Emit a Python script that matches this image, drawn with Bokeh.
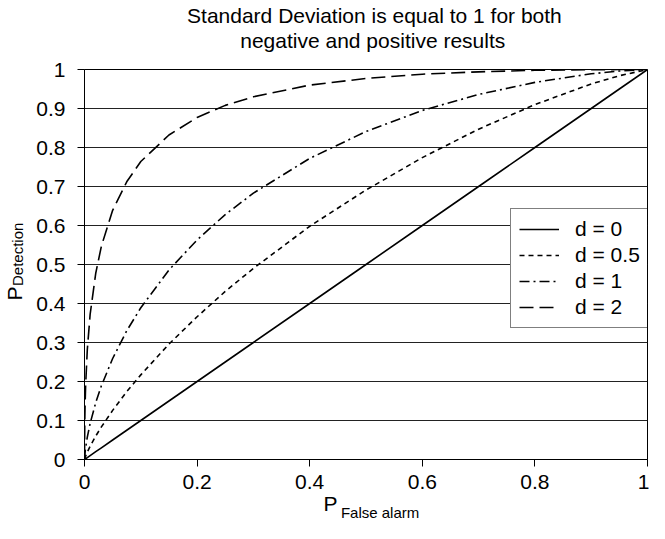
from bokeh.plotting import figure
from bokeh.models import Range1d, FixedTicker, LinearAxis
from bokeh.embed import file_html
from bokeh.resources import INLINE

# ---------------- data ----------------
title_lines = ["Standard Deviation is equal to 1 for both",
               "negative and positive results"]
x_label_main, x_label_sub = "P", "False alarm"
y_label_main, y_label_sub = "P", "Detection"

x_ticks = [0, 0.2, 0.4, 0.6, 0.8, 1]
x_tick_labels = ["0", "0.2", "0.4", "0.6", "0.8", "1"]
y_ticks = [0, 0.1, 0.2, 0.3, 0.4, 0.5, 0.6, 0.7, 0.8, 0.9, 1]
y_tick_labels = ["0", "0.1", "0.2", "0.3", "0.4", "0.5", "0.6", "0.7", "0.8", "0.9", "1"]

series_labels = ["d = 0", "d = 0.5", "d = 1", "d = 2"]

p_false_alarm = [0, 0.0005, 0.001, 0.002, 0.005, 0.01, 0.02, 0.03, 0.05, 0.075,
                 0.1, 0.15, 0.2, 0.25, 0.3, 0.4, 0.5, 0.6, 0.7, 0.8, 0.9, 0.95, 1.0]
p_det_d0 = [0, 0.0005, 0.001, 0.002, 0.005, 0.01, 0.02, 0.03, 0.05, 0.075,
            0.1, 0.15, 0.2, 0.25, 0.3, 0.4, 0.5, 0.6, 0.7, 0.8, 0.9, 0.95, 1.0]
p_det_d05 = [0, 0.0026, 0.0048, 0.0087, 0.0189, 0.0339, 0.0601, 0.0836, 0.126, 0.174,
             0.217, 0.296, 0.366, 0.431, 0.490, 0.598, 0.691, 0.774, 0.847, 0.910, 0.963, 0.984, 1.0]
p_det_d1 = [0, 0.011, 0.0183, 0.0302, 0.0575, 0.0924, 0.146, 0.189, 0.259, 0.330,
            0.389, 0.486, 0.563, 0.628, 0.683, 0.772, 0.841, 0.895, 0.936, 0.967, 0.989, 0.996, 1.0]
p_det_d2 = [0, 0.0985, 0.138, 0.190, 0.282, 0.372, 0.478, 0.547, 0.639, 0.712,
            0.764, 0.832, 0.877, 0.908, 0.930, 0.960, 0.977, 0.988, 0.994, 0.998, 0.9995, 0.9999, 1.0]

# ---------------- styling ----------------
FONT = "Liberation Sans"
series = [
    (p_det_d0, series_labels[0], "solid"),
    (p_det_d05, series_labels[1], "5 4"),
    (p_det_d1, series_labels[2], "10 4 2 4"),
    (p_det_d2, series_labels[3], "14 6"),
]

p = figure(width=649, height=523,
           x_range=Range1d(0, 1), y_range=Range1d(0, 1),
           output_backend="svg", toolbar_location=None,
           min_border_left=79, min_border_right=2,
           min_border_top=62, min_border_bottom=64)
p.title.text = ""
p.background_fill_color = "white"
p.border_fill_color = "white"
p.outline_line_color = "black"
p.outline_line_width = 1

for ys, lab, dash in series:
    p.line(p_false_alarm, ys, line_color="black", line_width=1.6,
           line_dash=dash, legend_label=lab)

# main axes
p.xaxis.ticker = FixedTicker(ticks=x_ticks)
p.yaxis.ticker = FixedTicker(ticks=y_ticks)
p.xaxis.major_label_overrides = dict(zip(x_ticks, x_tick_labels))
p.yaxis.major_label_overrides = dict(zip(y_ticks, y_tick_labels))
for ax in (p.xaxis, p.yaxis):
    ax.axis_line_color = "black"
    ax.axis_line_width = 1
    ax.major_tick_line_color = "black"
    ax.major_tick_in = 0
    ax.major_tick_out = 7
    ax.minor_tick_line_color = None
    ax.minor_tick_in = 0
    ax.minor_tick_out = 0
    ax.major_label_text_font = FONT
    ax.major_label_text_font_size = "21px"
    ax.major_label_text_color = "black"
p.xaxis.major_label_standoff = 8
p.yaxis.major_label_standoff = 12

# grid
p.xgrid.visible = False
p.ygrid.ticker = FixedTicker(ticks=y_ticks)
p.ygrid.grid_line_color = "#222222"
p.ygrid.grid_line_width = 1

# legend
lg = p.legend[0]
lg.location = (426, 131)
lg.label_text_font = FONT
lg.label_text_font_size = "21px"
lg.label_text_color = "black"
lg.glyph_width = 40
lg.glyph_height = 20
lg.label_standoff = 16
lg.padding = 8
lg.spacing = 2
lg.margin = 0
lg.border_line_color = "black"
lg.border_line_width = 1
lg.background_fill_color = "white"
lg.background_fill_alpha = 1


# text-only axes: each carries one piece of text as its single tick label,
# so the text sits at a chosen position along the frame
def text_axis(side, pos, text, size, standoff):
    ax = LinearAxis(ticker=FixedTicker(ticks=[pos]),
                    major_label_overrides={pos: text},
                    axis_line_color=None, major_tick_line_color=None,
                    major_tick_in=0, major_tick_out=0,
                    minor_tick_line_color=None, minor_tick_in=0, minor_tick_out=0,
                    major_label_standoff=standoff,
                    major_label_text_font=FONT, major_label_text_font_size=size,
                    major_label_text_color="black")
    if side in ("left", "right"):
        ax.major_label_orientation = "vertical"
    p.add_layout(ax, side)


# title: second line nearest to the frame, then the first line
text_axis("above", 0.512, title_lines[1], "21px", 18)
text_axis("above", 0.515, title_lines[0], "21px", -1)

# x label: subscript first, then the big P pulled back up beside it
text_axis("below", 0.525, x_label_sub, "15px", 12)
text_axis("below", 0.437, x_label_main, "21px", -32)

# y label: subscript nearer to the axis, big P outermost
text_axis("left", 0.526, y_label_sub, "15px", 7)
text_axis("left", 0.426, y_label_main, "21px", -20)

open("out.html", "w").write(file_html(p, INLINE))
